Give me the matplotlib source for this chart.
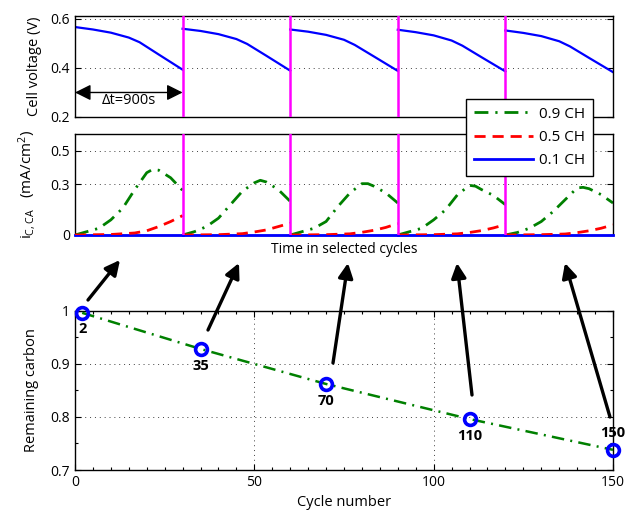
"""Carbon corrosion figure: cell voltage, carbon corrosion current and
remaining carbon over selected cycles."""

import numpy as np
import matplotlib
matplotlib.use("Agg")
import matplotlib.pyplot as plt

plt.rcParams["font.family"] = ["Open Sans", "DejaVu Sans"]
plt.rcParams["font.size"] = 9.5
plt.rcParams["mathtext.fontset"] = "custom"
plt.rcParams["mathtext.rm"] = "Open Sans"
plt.rcParams["mathtext.it"] = "Open Sans"

# ---------------------------------------------------------------------------
# Data
# ---------------------------------------------------------------------------

CYCLE_LEN = 900  # s
N_CYCLES = 5

# cell voltage, per selected cycle
t_volt = [0, 150, 300, 450, 540, 700, 900]
volt = [
    [0.567, 0.557, 0.544, 0.524, 0.505, 0.455, 0.393],
    [0.560, 0.551, 0.538, 0.518, 0.498, 0.450, 0.389],
    [0.557, 0.548, 0.535, 0.515, 0.494, 0.447, 0.388],
    [0.556, 0.546, 0.533, 0.512, 0.491, 0.444, 0.386],
    [0.553, 0.543, 0.530, 0.509, 0.488, 0.441, 0.383],
]

# carbon corrosion current, 0.9 CH
t_ch09 = [0, 100, 200, 300, 400, 500, 600, 650, 700, 800, 900]
ich09 = [
    [0, 0.020, 0.040, 0.090, 0.160, 0.270, 0.370, 0.390, 0.385, 0.340, 0.265],
    [0, 0.020, 0.050, 0.100, 0.180, 0.260, 0.310, 0.325, 0.315, 0.270, 0.200],
    [0, 0.020, 0.040, 0.080, 0.170, 0.250, 0.305, 0.305, 0.290, 0.250, 0.190],
    [0, 0.020, 0.040, 0.090, 0.150, 0.240, 0.295, 0.290, 0.270, 0.235, 0.180],
    [0, 0.015, 0.040, 0.080, 0.140, 0.210, 0.280, 0.283, 0.275, 0.240, 0.190],
]

# carbon corrosion current, 0.5 CH
t_ch05 = [0, 300, 500, 600, 700, 800, 900]
ich05 = [
    [0, 0.003, 0.012, 0.025, 0.050, 0.080, 0.115],
    [0, 0.002, 0.008, 0.018, 0.030, 0.050, 0.070],
    [0, 0.002, 0.007, 0.016, 0.028, 0.045, 0.068],
    [0, 0.002, 0.007, 0.015, 0.026, 0.042, 0.062],
    [0, 0.002, 0.006, 0.014, 0.025, 0.040, 0.060],
]

# carbon corrosion current, 0.1 CH
t_ch01 = [0, 900]
ich01 = [0.0, 0.0]

# remaining carbon vs cycle number
cycles = [2, 35, 70, 110, 150]
remaining = [0.996, 0.928, 0.862, 0.796, 0.738]

# arrows from the carbon plot up to the cycles (figure pixels, y from top)
arrow_tails = [(88, 300), (208, 330), (333, 363), (472, 395), (610, 417)]
arrow_heads = [(120, 260), (239, 263), (348, 263), (457, 263), (565, 263)]

# ---------------------------------------------------------------------------
# Styling
# ---------------------------------------------------------------------------

W, H = 627, 513
GREEN = "#008000"
MAGENTA = "#FF00FF"
DASHDOT = (0, (5, 2.5, 0.8, 2.5))
GRID = dict(color="0.25", linestyle=(0, (1, 4)), linewidth=0.7)


def _style(ax):
    ax.tick_params(direction="in", which="both", top=True, right=True,
                   length=4, width=0.8, labelsize=10)
    ax.tick_params(which="minor", length=2.5)
    for sp in ax.spines.values():
        sp.set_linewidth(1.0)
    ax.grid(True, **GRID)


fig = plt.figure(figsize=(W / 100, H / 100), dpi=100)

left, width = 75 / W, 538 / W
ax_v = fig.add_axes([left, 1 - 117 / H, width, 101 / H])
ax_i = fig.add_axes([left, 1 - 235 / H, width, 101 / H])
ax_c = fig.add_axes([left, 1 - 470 / H, width, 159.3 / H])

# --- Panel 1: cell voltage -------------------------------------------------
for k in range(N_CYCLES):
    t = np.asarray(t_volt) + k * CYCLE_LEN
    ax_v.plot(t, volt[k], color="blue", lw=1.6)
ax_v.set_xlim(0, N_CYCLES * CYCLE_LEN)
ax_v.set_ylim(0.2, 0.612)
ax_v.set_yticks([0.2, 0.4, 0.6])
ax_v.set_yticklabels(["0.2", "0.4", "0.6"])
ax_v.set_xticks([])
ax_v.set_ylabel("Cell voltage (V)", fontsize=10.5, labelpad=6)
_style(ax_v)
ax_v.tick_params(top=False, bottom=False)

ax_v.annotate("", xy=(0, 0.3), xytext=(CYCLE_LEN, 0.3),
              arrowprops=dict(arrowstyle="<|-|>", color="k", lw=1.0,
                              mutation_scale=24, shrinkA=0, shrinkB=0))
ax_v.text(CYCLE_LEN / 2, 0.266, "Δt=900s", ha="center", va="center",
          fontsize=10.5)

# --- Panel 2: corrosion current --------------------------------------------
for k in range(N_CYCLES):
    off = k * CYCLE_LEN
    l09, = ax_i.plot(np.asarray(t_ch09) + off, ich09[k], color=GREEN,
                     lw=2.0, linestyle=DASHDOT)
    l05, = ax_i.plot(np.asarray(t_ch05) + off, ich05[k], color="red",
                     lw=2.0, linestyle=(0, (4, 2.5)), zorder=6)
    l01, = ax_i.plot(np.asarray(t_ch01) + off, ich01, color="blue",
                     lw=2.0, clip_on=False, zorder=5)
ax_i.set_xlim(0, N_CYCLES * CYCLE_LEN)
ax_i.set_ylim(0, 0.6)
ax_i.set_yticks([0, 0.3, 0.5])
ax_i.set_yticklabels(["0", "0.3", "0.5"])
ax_i.set_xticks([])
ax_i.set_ylabel(r"$\mathregular{i_{C,CA}}$   (mA/cm$^{\mathregular{2}}$)",
                fontsize=11, labelpad=9)
ax_i.set_xlabel("Time in selected cycles", fontsize=10, labelpad=5)
_style(ax_i)
ax_i.tick_params(top=False, bottom=False)

for ax in (ax_v, ax_i):
    for k in range(1, N_CYCLES):
        ax.axvline(k * CYCLE_LEN, color=MAGENTA, lw=1.8, zorder=7)

fig.legend([l09, l05, l01], ["0.9 CH", "0.5 CH", "0.1 CH"],
           loc="upper right", bbox_to_anchor=(593 / W, 1 - 99 / H),
           fontsize=11, frameon=True, fancybox=False, framealpha=1,
           edgecolor="k", handlelength=3.9, borderpad=0.5,
           labelspacing=0.55, handletextpad=0.4, borderaxespad=0)
fig.legends[0].get_frame().set_linewidth(1.0)
fig.legends[0].set_zorder(20)

# --- Panel 3: remaining carbon ---------------------------------------------
ax_c.plot(cycles, remaining, color=GREEN, lw=1.8, linestyle=DASHDOT, zorder=3)
ax_c.plot(cycles, remaining, linestyle="none", marker="o", ms=8.5,
          mfc="none", mec="blue", mew=2.6, zorder=4, clip_on=False)
for c, r in zip(cycles, remaining):
    dy = 12 if c == 150 else -12
    ax_c.annotate(str(c), xy=(c, r), xytext=(0, dy),
                  textcoords="offset points", ha="center", va="center",
                  fontsize=10.5, fontweight="bold")
ax_c.set_xlim(0, 150)
ax_c.set_ylim(0.7, 1.0)
ax_c.set_xticks([0, 50, 100, 150])
ax_c.set_yticks([0.7, 0.8, 0.9, 1.0])
ax_c.set_yticklabels(["0.7", "0.8", "0.9", "1"])
ax_c.set_xticks(np.arange(0, 151, 5), minor=True)
ax_c.set_yticks(np.arange(0.7, 1.001, 0.05), minor=True)
ax_c.set_xlabel("Cycle number", fontsize=10.5, labelpad=4)
ax_c.set_ylabel("Remaining carbon", fontsize=10.5, labelpad=8)
_style(ax_c)

# --- Arrows linking cycles to the time traces ------------------------------
for (x0, y0), (x1, y1) in zip(arrow_tails, arrow_heads):
    fig.add_artist(matplotlib.patches.FancyArrowPatch(
        (x0 / W, 1 - y0 / H), (x1 / W, 1 - y1 / H),
        transform=fig.transFigure, arrowstyle="-|>", color="k",
        lw=2.4, mutation_scale=22, shrinkA=0, shrinkB=0, zorder=10))

fig.savefig("out.png", dpi=100)
